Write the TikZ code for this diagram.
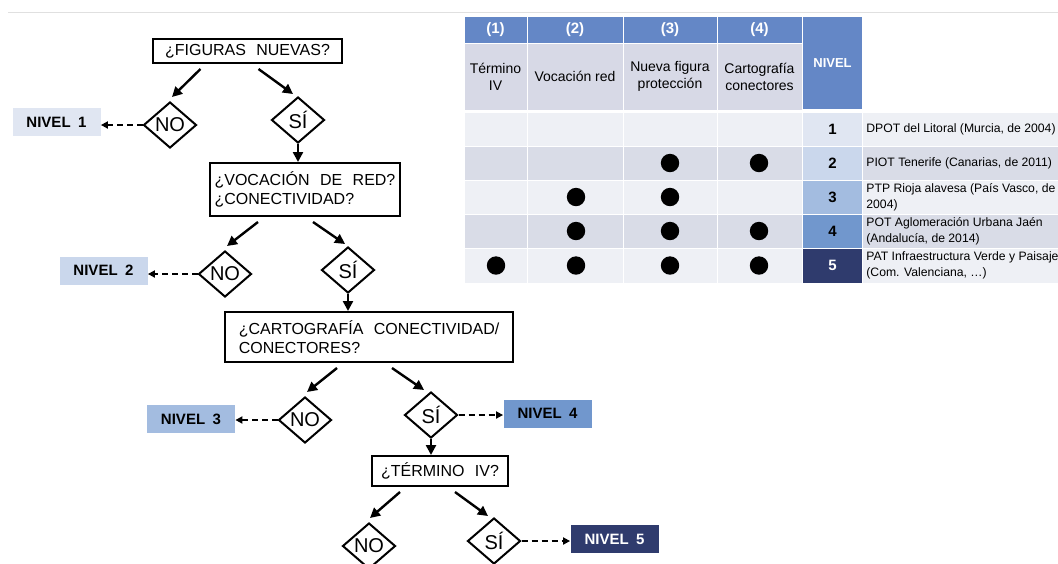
\documentclass[tikz,border=0pt]{standalone}
\usepackage{fontspec}
\setmainfont{Liberation Sans}
\usepackage{xcolor}
\usetikzlibrary{arrows.meta, positioning, calc, shapes.geometric}

\definecolor{hdrblue}{HTML}{6487C6}
\definecolor{hdrgray}{HTML}{D7D9E6}
\definecolor{rowlight}{HTML}{EEF0F5}
\definecolor{rowdark}{HTML}{D9DCE7}
\definecolor{lvA}{HTML}{E0E6F2}
\definecolor{lvB}{HTML}{CAD7EC}
\definecolor{lvC}{HTML}{A3BCE0}
\definecolor{lvD}{HTML}{7197CD}
\definecolor{lvE}{HTML}{2F3B6D}

\begin{document}
\begin{tikzpicture}[
    x=0.5pt, y=-0.5pt,
    qbox/.style={rectangle, draw, line width=1pt, inner sep=0pt, align=left,
                 font={\fontsize{8}{9.5}\selectfont\spaceskip=0.65em\relax}},
    dec/.style={diamond, draw, line width=1pt, inner sep=0pt, minimum width=26.5pt,
                minimum height=23pt, font={\fontsize{10}{11}\selectfont}},
    lvl/.style={rectangle, inner sep=0pt, minimum width=44pt, minimum height=14pt,
                font={\fontsize{7.5}{9}\selectfont\bfseries\spaceskip=0.5em\relax}},
    arr/.style={-{Triangle[length=5pt, width=5pt]}, line width=1.2pt},
    darr/.style={-{Triangle[length=3.5pt, width=3.5pt]}, line width=1pt,
                 dash pattern=on 3pt off 2pt},
    hnum/.style={font={\fontsize{7.5}{9}\selectfont\bfseries}, text=white},
    hname/.style={font={\fontsize{7}{8.5}\selectfont}, align=center},
    lnum/.style={font={\fontsize{7.5}{9}\selectfont\bfseries}},
    desc/.style={anchor=west, inner sep=0pt, align=left, font={\fontsize{6.1}{8.2}\selectfont}},
]
    \useasboundingbox (0,0) rectangle (1058,563);
    \draw[black!12, line width=0.5pt] (8,12) -- (1058,12);

    % ── Flowchart ──

    % level 1
    \node[qbox, minimum width=94.5pt, minimum height=12pt] (q1) at (247.5,51) {¿FIGURAS NUEVAS?};
    \node[dec] (no1) at (170,125) {NO};
    \node[dec] (si1) at (298,120) {SÍ};
    \node[lvl, fill=lvA] (niv1) at (56.5,122) {NIVEL 1};

    \draw[arr] ($(q1.south)+(-47,5)$) -- ($(no1.north)+(2,-4)$);
    \draw[arr] ($(q1.south)+(11,5)$) -- ($(si1.north)+(-5,-2)$);
    \draw[darr] (no1.west) -- (no1.west -| niv1.east);

    % level 2
    \node[qbox, minimum width=95pt, minimum height=26.5pt] (q2) at (305,189.5)
        {¿VOCACIÓN DE RED?\\¿CONECTIVIDAD?};
    \node[dec] (no2) at (225,274) {NO};
    \node[dec] (si2) at (348,270) {SÍ};
    \node[lvl, fill=lvB] (niv2) at (103.5,270.5) {NIVEL 2};

    \draw[arr] (si1.south) -- (si1.south |- q2.north);
    \draw[arr] ($(q2.south)+(-47,5)$) -- ($(no2.north)+(2,-4)$);
    \draw[arr] ($(q2.south)+(8,5)$) -- ($(si2.north)+(-3,-2)$);
    \draw[darr] (no2.west) -- (no2.west -| niv2.east);

    % level 3 / 4
    \node[qbox, minimum width=144pt, minimum height=25pt] (q3) at (369,337)
        {¿CARTOGRAFÍA CONECTIVIDAD/\\CONECTORES?};
    \node[dec] (no3) at (305,420) {NO};
    \node[dec] (si3) at (431,415) {SÍ};
    \node[lvl, fill=lvC] (niv3) at (191,419) {NIVEL 3};
    \node[lvl, fill=lvD] (niv4) at (547.5,413.5) {NIVEL 4};

    \draw[arr] (si2.south) -- (si2.south |- q3.north);
    \draw[arr] ($(q3.south)+(-32,5)$) -- ($(no3.north)+(2,-4)$);
    \draw[arr] ($(q3.south)+(23,5)$) -- ($(si3.north)+(-7,-1)$);
    \draw[darr] (no3.west) -- (no3.west -| niv3.east);
    \draw[darr] (si3.east) -- (si3.east -| niv4.west);

    % level 5
    \node[qbox, minimum width=68pt, minimum height=15pt] (q4) at (440,471) {¿TÉRMINO IV?};
    \node[dec] (no4) at (369,546) {NO};
    \node[dec] (si4) at (494,541) {SÍ};
    \node[lvl, fill=lvE, text=white] (niv5) at (614.5,539) {NIVEL 5};

    \draw[arr] (si3.south) -- (si3.south |- q4.north);
    \draw[arr] ($(q4.south)+(-40,5)$) -- ($(no4.north)+(1,-4)$);
    \draw[arr] ($(q4.south)+(15,5)$) -- ($(si4.north)+(-6,-1)$);
    \draw[darr] (si4.east) -- (si4.east -| niv5.west);

    % ── Table ──

    % header cells
    \foreach \xa/\xb in {464/527, 527/623, 623/717, 717/802} {
        \fill[hdrblue] (\xa+0.5,17) rectangle (\xb-0.5,42.5);
        \fill[hdrgray] (\xa+0.5,43.5) rectangle (\xb-0.5,109.5);
    }
    \fill[hdrblue] (803,17) rectangle (862,109);

    % body rows
    \foreach \ya/\yb/\fc/\lc in {112/146/rowlight/lvA, 146/180/rowdark/lvB,
            180/214/rowlight/lvC, 214/248/rowdark/lvD, 248/283/rowlight/lvE} {
        \foreach \xa/\xb in {464/527, 527/623, 623/717, 717/802, 862/1058}
            \fill[\fc] (\xa+0.5,\ya+0.5) rectangle (\xb-0.5,\yb-0.5);
        \fill[\lc] (803,\ya+0.5) rectangle (862,\yb-0.5);
    }

    \node[hnum] (h1) at (495.5,30) {(1)};
    \node[hnum] (h2) at (575,30) {(2)};
    \node[hnum] (h3) at (670,30) {(3)};
    \node[hnum] (h4) at (759.5,30) {(4)};
    \node[hname] (t1) at (495.5,76.5) {Término\\IV};
    \node[hname] (t2) at (575,76.5) {Vocación red};
    \node[hname] (t3) at (670,76.5) {Nueva figura\\protección};
    \node[hname] (t4) at (759.5,76.5) {Cartografía\\conectores};
    \node[font={\fontsize{6.5}{8}\selectfont\bfseries}, text=white] (hniv) at (832.5,63) {NIVEL};

    \node[lnum] (lv1) at (832.5,129) {1};
    \node[lnum] (lv2) at (832.5,163) {2};
    \node[lnum] (lv3) at (832.5,197) {3};
    \node[lnum] (lv4) at (832.5,231) {4};
    \node[lnum, text=white] (lv5) at (832.5,265.5) {5};

    \node[desc] (d1) at (866,129) {DPOT del Litoral (Murcia, de 2004)};
    \node[desc] (d2) at (866,163) {PIOT Tenerife (Canarias, de 2011)};
    \node[desc] (d3) at (866,197) {PTP Rioja alavesa (País Vasco, de\\2004)};
    \node[desc] (d4) at (866,231) {POT Aglomeración Urbana Jaén\\(Andalucía, de 2014)};
    \node[desc] (d5) at (866,265.5) {PAT Infraestructura Verde y Paisaje\\(Com. Valenciana, …)};

    % dots
    \foreach \cx/\cy in {670/163, 759/163, 576/197, 670/197, 576/231, 670/231, 759/231,
            496/265.5, 576/265.5, 670/265.5, 759/265.5}
        \fill (\cx,\cy) circle [radius=4.6pt];

\end{tikzpicture}
\end{document}
